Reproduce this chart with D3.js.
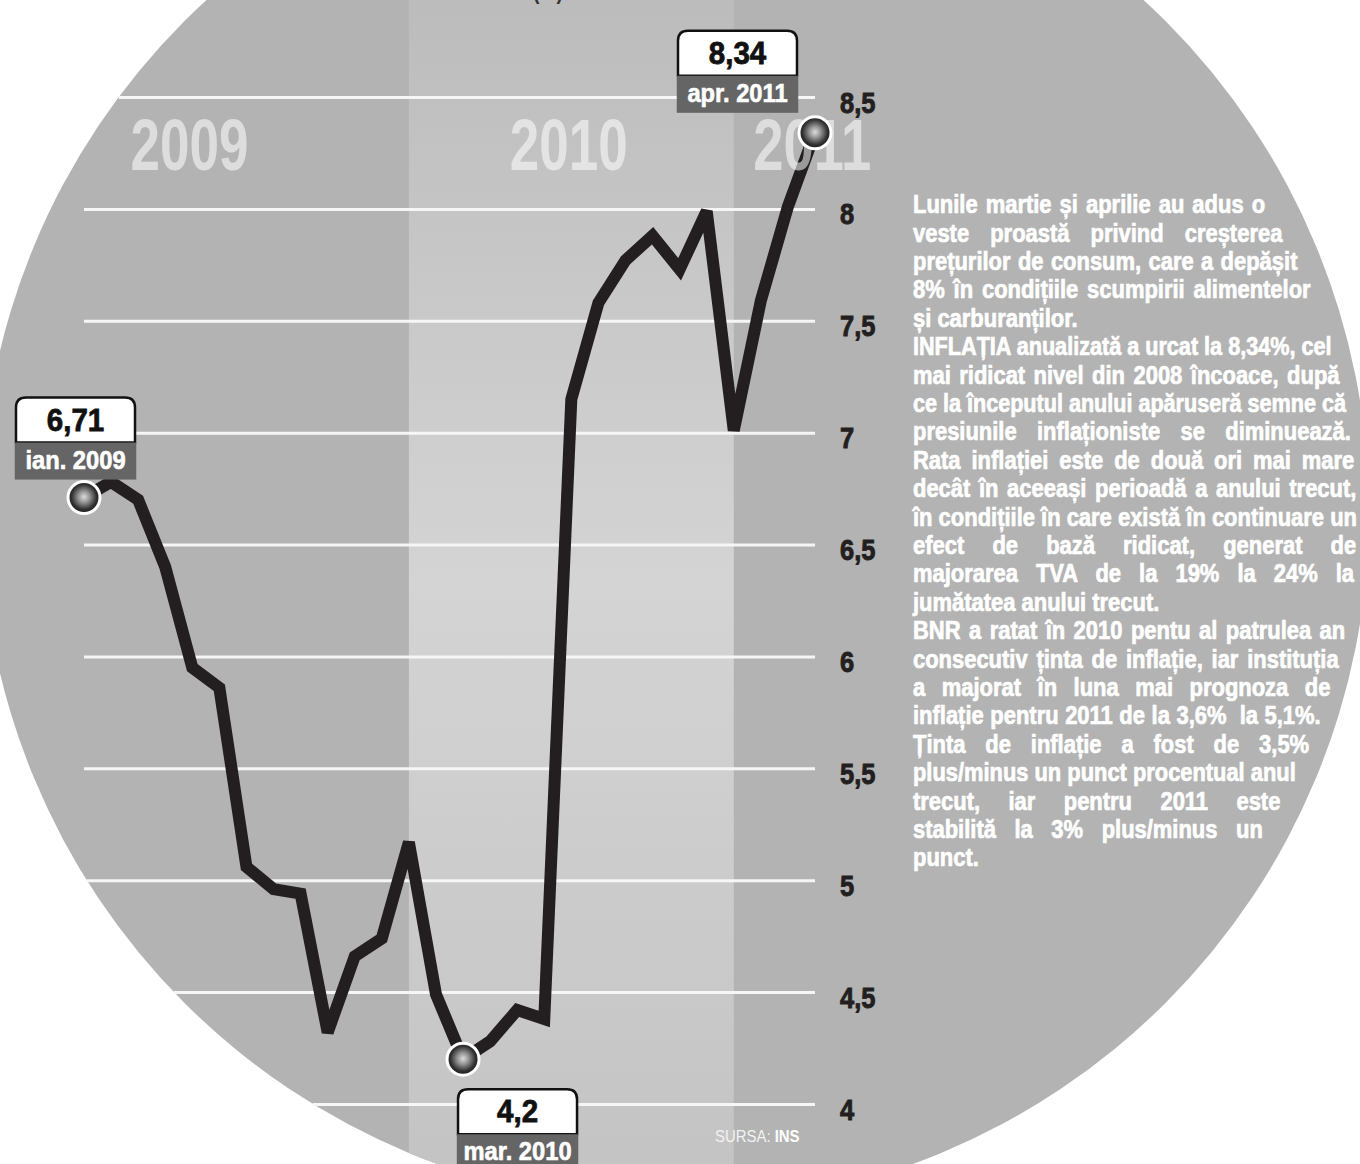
<!DOCTYPE html>
<html><head><meta charset="utf-8">
<script src="https://cdn.jsdelivr.net/npm/d3@7/dist/d3.min.js"></script>
<style>
html,body{margin:0;padding:0;background:#fff;}
svg{display:block;}
text{font-family:"Liberation Sans Narrow","Liberation Sans",Arial,sans-serif;font-weight:bold;}
</style></head><body>
<svg id="chart" width="1360" height="1164"></svg>
<script>
// ---------------- DATA ----------------
const months = ["ian. 2009","feb. 2009","mar. 2009","apr. 2009","mai 2009","iun. 2009","iul. 2009","aug. 2009","sep. 2009","oct. 2009","nov. 2009","dec. 2009",
                "ian. 2010","feb. 2010","mar. 2010","apr. 2010","mai 2010","iun. 2010","iul. 2010","aug. 2010","sep. 2010","oct. 2010","nov. 2010","dec. 2010",
                "ian. 2011","feb. 2011","mar. 2011","apr. 2011"];
const inflation = [6.71, 6.78, 6.70, 6.40, 5.95, 5.86, 5.06, 4.96, 4.94, 4.32, 4.66, 4.74,
                   5.17, 4.49, 4.20, 4.28, 4.42, 4.38, 7.15, 7.58, 7.77, 7.88, 7.73, 7.99,
                   7.01, 7.59, 8.01, 8.34];
const yTicks = [4, 4.5, 5, 5.5, 6, 6.5, 7, 7.5, 8, 8.5];
const years = ["2009", "2010", "2011"];
const highlighted = [0, 14, 27];
const sourceLabel = "SURSA:";
const sourceName = "INS";
const textLines = [
  "Lunile martie și aprilie au adus o",
  "veste proastă privind creșterea",
  "prețurilor de consum, care a depășit",
  "8% în condițiile scumpirii alimentelor",
  "și carburanților.",
  "INFLAȚIA anualizată a urcat la 8,34%, cel",
  "mai ridicat nivel din 2008 încoace, după",
  "ce la începutul anului apăruseră semne că",
  "presiunile inflaționiste se diminuează.",
  "Rata inflației este de două ori mai mare",
  "decât în aceeași perioadă a anului trecut,",
  "în condițiile în care există în continuare un",
  "efect de bază ridicat, generat de",
  "majorarea TVA de la 19% la 24% la",
  "jumătatea anului trecut.",
  "BNR a ratat în 2010 pentu al patrulea an",
  "consecutiv ținta de inflație, iar instituția",
  "a majorat în luna mai prognoza de",
  "inflație pentru 2011 de la 3,6%  la 5,1%.",
  "Ținta de inflație a fost de 3,5%",
  "plus/minus un punct procentual anul",
  "trecut, iar pentru 2011 este",
  "stabilită la 3% plus/minus un",
  "punct."
];
const paragraphEnds = [4, 14, 23];

// ---------------- LAYOUT ----------------
const W = 1360, H = 1164;
const circ = {cx: 675, cy: 512, r: 694};
const wrap = {cx: 786, cy: 515, r: 571};
const fmt = v => String(v).replace(".", ",");

const svg = d3.select("#chart");
const defs = svg.append("defs");

// condensing factor: natural widths of unjustified reference lines
const calib = [["jumătatea anului trecut.", 250], ["și carburanților.", 163], ["punct.", 64]];
const probe = svg.append("text").attr("font-size", 25).attr("x", -1000).attr("y", -1000);
let mSum = 0, rSum = 0;
calib.forEach(([s, w]) => { probe.text(s); mSum += probe.node().getComputedTextLength(); rSum += w; });
probe.remove();
const f = rSum / mSum;

defs.append("clipPath").attr("id", "circClip")
  .append("circle").attr("cx", circ.cx).attr("cy", circ.cy).attr("r", circ.r);

const bandGrad = defs.append("linearGradient").attr("id", "bandGrad")
  .attr("x1", 0).attr("y1", 0).attr("x2", 0).attr("y2", 1);
bandGrad.append("stop").attr("offset", 0).attr("stop-color", "#bcbcbc");
bandGrad.append("stop").attr("offset", 0.5).attr("stop-color", "#d4d4d4");
bandGrad.append("stop").attr("offset", 1).attr("stop-color", "#c4c4c4");

const ball = defs.append("radialGradient").attr("id", "ball")
  .attr("cx", "50%").attr("cy", "48%").attr("r", "55%");
ball.append("stop").attr("offset", 0).attr("stop-color", "#dcdcdc");
ball.append("stop").attr("offset", 0.3).attr("stop-color", "#9a9a9a");
ball.append("stop").attr("offset", 0.7).attr("stop-color", "#333");
ball.append("stop").attr("offset", 1).attr("stop-color", "#111");

const x = d3.scaleLinear().domain([0, inflation.length - 1]).range([84, 815]);
const y = d3.scaleLinear().domain([4, 8.5]).range([1104, 97]);

// background disc
svg.append("circle").attr("cx", circ.cx).attr("cy", circ.cy).attr("r", circ.r).attr("fill", "#b3b3b3");

const clipped = svg.append("g").attr("clip-path", "url(#circClip)");
// 2010 band
clipped.append("rect")
  .attr("x", x(12)).attr("y", 0)
  .attr("width", x(24) - x(12)).attr("height", H)
  .attr("fill", "url(#bandGrad)");

// title remnant at top
svg.append("text").attr("transform", `translate(548,-1) scale(${f},1)`).attr("text-anchor", "middle")
  .attr("font-size", 22).attr("fill", "#333").text("(%)");

// axis (gridlines + labels)
const xEnd = x(inflation.length - 1);
const axis = d3.axisRight(y)
  .tickValues(yTicks)
  .tickFormat(fmt)
  .tickSize(-(xEnd - x(0)))
  .tickPadding(25);
const ag = svg.append("g").attr("transform", `translate(${xEnd},0)`).call(axis);
ag.select(".domain").remove();
ag.attr("font-family", null).attr("font-size", null);
ag.selectAll(".tick line").attr("stroke", "#f6f6f6").attr("stroke-width", 3)
  .attr("x2", d => {
    const dy = y(d) - circ.cy;
    const leftEdge = circ.cx - Math.sqrt(circ.r * circ.r - dy * dy);
    return Math.max(x(0), leftEdge) - xEnd;
  });
ag.selectAll(".tick text")
  .attr("fill", "#231f20").attr("font-size", 29)
  .attr("stroke", "#231f20").attr("stroke-width", 0.9)
  .attr("dy", null).attr("y", 15)
  .attr("x", 25 / f)
  .attr("transform", `scale(${f},1)`);

// line
svg.append("path")
  .datum(inflation)
  .attr("fill", "none")
  .attr("stroke", "#231f20")
  .attr("stroke-width", 12)
  .attr("stroke-linejoin", "miter")
  .attr("stroke-miterlimit", 2)
  .attr("d", d3.line().x((d, i) => x(i)).y(d => y(d)));

// year labels (drawn semi-transparent over the line)
const yearAt = [3.9, 17.9, 26.9];
svg.selectAll("text.year").data(years).join("text")
  .attr("class", "year")
  .attr("x", (d, i) => x(yearAt[i]))
  .attr("y", 170)
  .attr("text-anchor", "middle")
  .attr("font-size", 72)
  .attr("textLength", 118)
  .attr("lengthAdjust", "spacingAndGlyphs")
  .attr("fill", "#fff")
  .attr("fill-opacity", 0.55)
  .text(d => d);

// markers
svg.selectAll("circle.mk").data(highlighted).join("circle")
  .attr("class", "mk")
  .attr("cx", i => x(i)).attr("cy", i => y(inflation[i]))
  .attr("r", 16)
  .attr("fill", "url(#ball)")
  .attr("stroke", "#fff").attr("stroke-width", 3);

// callouts
const bw = 119, wh = 45, gh = 37;
const calloutPos = {
  0:  (px, py) => [px - 68, py - 18 - wh - gh],
  14: (px, py) => [px - 5, py + 30],
  27: (px, py) => [px - 18 - bw, py - 20 - wh - gh]
};
highlighted.forEach(i => {
  const [bx, by] = calloutPos[i](x(i), y(inflation[i]));
  const g = svg.append("g").attr("transform", `translate(${bx},${by})`);
  g.append("path")
    .attr("d", `M0,${wh} V10 Q0,0 10,0 H${bw - 10} Q${bw},0 ${bw},10 V${wh} Z`)
    .attr("fill", "#fff").attr("stroke", "#111").attr("stroke-width", 2.5);
  g.append("rect").attr("x", -1.25).attr("y", wh).attr("width", bw + 2.5).attr("height", gh).attr("fill", "#656565");
  g.append("text").attr("transform", `translate(${bw / 2},33) scale(${f * 1.05},1)`).attr("text-anchor", "middle")
    .attr("font-size", 32).attr("fill", "#111").attr("stroke", "#111").attr("stroke-width", 0.8)
    .text(fmt(inflation[i]));
  g.append("text").attr("transform", `translate(${bw / 2},${wh + 26}) scale(${f * 1.08},1)`).attr("text-anchor", "middle")
    .attr("font-size", 25).attr("fill", "#fff").attr("stroke", "#fff").attr("stroke-width", 0.6)
    .text(months[i]);
});

// source
const src = svg.append("text").attr("transform", `translate(715,1142) scale(${f},1)`).attr("font-size", 17).attr("fill", "#f2f2f2");
src.append("tspan").attr("font-weight", "normal").text(sourceLabel + " ");
src.append("tspan").attr("font-weight", "bold").attr("fill", "#fff").text(sourceName);

// text block
const tx = 913, base0 = 213.3, lh = 28.4;
const tg = svg.append("g").attr("fill", "#fff").attr("font-size", 25)
  .attr("stroke", "#fff").attr("stroke-width", 0.7)
  .attr("transform", `translate(${tx},0) scale(${f},1)`);
textLines.forEach((s, i) => {
  const yb = base0 + i * lh;
  const dy = (yb - 9) - wrap.cy;
  const right = wrap.cx + Math.sqrt(wrap.r * wrap.r - dy * dy);
  const target = (right - tx) / f;
  const t = tg.append("text").attr("x", 0).attr("y", yb).style("white-space", "pre").text(s);
  const nat = t.node().getComputedTextLength();
  const spaces = (s.match(/ /g) || []).length;
  if (!paragraphEnds.includes(i)) {
    if (nat < target && spaces > 0) t.attr("word-spacing", (target - nat) / spaces);
    else t.attr("textLength", target).attr("lengthAdjust", "spacingAndGlyphs");
  }
});
</script>
</body></html>
